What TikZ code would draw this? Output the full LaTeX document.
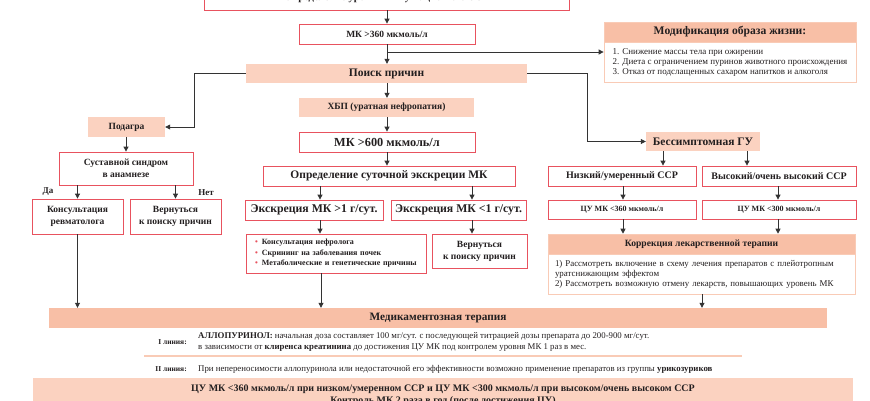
\documentclass[tikz,border=0pt]{standalone}
\usepackage{fontspec}
\setmainfont{Liberation Serif}
\usetikzlibrary{arrows.meta}
\definecolor{redb}{HTML}{E8525E}
\definecolor{salD}{HTML}{F8BFA6}
\definecolor{salL}{HTML}{FBD2C0}
\definecolor{salB}{HTML}{F9CBB6}
\definecolor{txt}{HTML}{231F20}
\definecolor{ln}{HTML}{333333}
\newcommand\fsz[2]{\fontsize{#1}{#2}\selectfont}
\begin{document}
\begin{tikzpicture}[x=1pt,y=-1pt,
  box/.style={draw=redb,line width=0.8pt,fill=white,inner sep=0pt,align=center,font=\bfseries\fsz{10}{12},text=txt},
  fbox/.style={fill=salL,inner sep=0pt,align=center,font=\bfseries\fsz{10}{12},text=txt},
  hbox/.style={fill=salD,draw=salB,line width=0.6pt,inner sep=0pt,align=center,font=\bfseries\fsz{10}{12},text=txt},
  bbox/.style={fill=white,draw=salB,line width=0.8pt,inner sep=0pt,align=left,font=\fsz{9}{10},text=txt},
  arr/.style={draw=ln,line width=0.8pt,-{Triangle[length=5pt,width=5pt]}},
  lin/.style={draw=ln,line width=0.8pt}]
\useasboundingbox (0,0) rectangle (870,400);

% top row
\node[box,minimum width=365,minimum height=24,font=\bfseries\fsz{10.5}{12}] (top) at (386.5,-2) {Определение уровня МК у пациента с ССР};
\node[box,minimum width=176,minimum height=20,font=\bfseries\fsz{9.5}{12}] (mk360) at (387,34) {МК >360 мкмоль/л};
\node[hbox,minimum width=252,minimum height=20,font=\bfseries\fsz{11.6}{14}] (modh) at (730,32) {Модификация образа жизни:};
\node[bbox,minimum width=252,minimum height=40] (modb) at (730,62) {1. Снижение массы тела при ожирении\\2. Диета с ограничением пуринов животного происхождения\\3. Отказ от подслащенных сахаром напитков и алкоголя};
\node[fbox,minimum width=281,minimum height=19,font=\bfseries\fsz{11.5}{13}] (poisk) at (386.5,73.5) {Поиск причин};
\node[fbox,minimum width=175,minimum height=19,font=\bfseries\fsz{9.5}{12}] (hbp) at (386.5,107.5) {ХБП (уратная нефропатия)};

% left branch
\node[fbox,minimum width=77,minimum height=20,font=\bfseries\fsz{9.5}{12}] (podagra) at (126.5,127) {Подагра};
\node[box,minimum width=134,minimum height=33,font=\bfseries\fsz{9.5}{12}] (sust) at (126,168.5) {Суставной синдром\\в анамнезе};
\node[box,minimum width=91,minimum height=35,font=\bfseries\fsz{9.5}{12}] (konsult) at (77.5,216.5) {Консультация\\ревматолога};
\node[box,minimum width=91,minimum height=35,font=\bfseries\fsz{9.5}{12}] (vern1) at (175.5,216.5) {Вернуться\\к поиску причин};
\node[font=\bfseries\fsz{9}{11},text=txt] (da) at (48,192) {Да};
\node[font=\bfseries\fsz{9}{11},text=txt] (net) at (206,193) {Нет};

% middle branch
\node[box,minimum width=176,minimum height=20,font=\bfseries\fsz{12.3}{14}] (mk600) at (387,142) {МК >600 мкмоль/л};
\node[box,minimum width=252,minimum height=20,font=\bfseries\fsz{11.5}{14}] (opred) at (389,176) {Определение суточной экскреции МК};
\node[box,minimum width=138,minimum height=20,font=\bfseries\fsz{11.8}{14}] (ex1) at (314,210) {Экскреция МК >1 г/сут.};
\node[box,minimum width=135,minimum height=20,font=\bfseries\fsz{11.8}{14}] (ex2) at (458.5,210) {Экскреция МК <1 г/сут.};
\node[box,minimum width=180,minimum height=39,text width=162,align=left,font=\bfseries\fsz{8}{10.5}] (bul) at (336,253.5) {\textcolor{redb}{•}\hspace{4pt}Консультация нефролога\\\textcolor{redb}{•}\hspace{4pt}Скрининг на заболевания почек\\\textcolor{redb}{•}\hspace{4pt}Метаболические и генетические причины};
\node[box,minimum width=95,minimum height=34,font=\bfseries\fsz{9.5}{12}] (vern2) at (479.5,251) {Вернуться\\к поиску причин};

% right branch
\node[fbox,minimum width=114,minimum height=19,font=\bfseries\fsz{11.5}{13}] (bess) at (703,141.5) {Бессимптомная ГУ};
\node[box,minimum width=148,minimum height=20,font=\bfseries\fsz{10}{12}] (nizk) at (622,176) {Низкий/умеренный ССР};
\node[box,minimum width=154,minimum height=20,font=\bfseries\fsz{10}{12}] (vys) at (779,176) {Высокий/очень высокий ССР};
\node[box,minimum width=148,minimum height=19,font=\bfseries\fsz{8}{10}] (cu360) at (622,209.5) {ЦУ МК <360 мкмоль/л};
\node[box,minimum width=154,minimum height=19,font=\bfseries\fsz{8}{10}] (cu300) at (779,209.5) {ЦУ МК <300 мкмоль/л};
\node[hbox,minimum width=307,minimum height=20,font=\bfseries\fsz{9.6}{12}] (korrh) at (701.5,244) {Коррекция лекарственной терапии};
\node[bbox,minimum width=307,minimum height=40,text width=293,font=\fsz{8.9}{10}] (korrb) at (701.5,274) {1) Рассмотреть включение в схему лечения препаратов с плейотропным\\уратснижающим эффектом\\2) Рассмотреть возможную отмену лекарств, повышающих уровень МК};

% bottom
\node[fill=salD,inner sep=0pt,minimum width=778,minimum height=20,font=\bfseries\fsz{11.3}{14},text=txt] (med) at (438,318) {Медикаментозная терапия};
\node[anchor=east,inner sep=0pt,font=\bfseries\fsz{7.5}{9},text=txt] (l1) at (187,342) {I линия:};
\node[anchor=west,inner sep=0pt,align=left,font=\fsz{8.8}{11},text=txt] (t1) at (198,341.5) {\textbf{АЛЛОПУРИНОЛ:} начальная доза составляет 100 мг/сут. с последующей титрацией дозы препарата до 200-900 мг/сут.\\в зависимости от \textbf{клиренса креатинина} до достижения ЦУ МК под контролем уровня МК 1 раз в мес.};
\draw[draw=salB,line width=1.2pt] (144,356) -- (742,356);
\node[anchor=east,inner sep=0pt,font=\bfseries\fsz{7.5}{9},text=txt] (l2) at (187,369) {II линия:};
\node[anchor=west,inner sep=0pt,align=left,font=\fsz{8.8}{11},text=txt] (t2) at (198,369) {При непереносимости аллопуринола или недостаточной его эффективности возможно применение препаратов из группы \textbf{урикозуриков}};
\node[fill=salL,anchor=north,minimum width=820,inner xsep=0pt,inner ysep=7pt,align=center,font=\bfseries\fsz{10}{12},text=txt] (goal) at (443,378) {ЦУ МК <360 мкмоль/л при низком/умеренном ССР и ЦУ МК <300 мкмоль/л при высоком/очень высоком ССР\\Контроль МК 2 раза в год (после достижения ЦУ)};

% connectors
\coordinate (br) at (387,52);
\draw[arr] (top.south -| mk360) -- (mk360.north);
\draw[arr] (mk360.south) -- (poisk.north -| mk360);
\draw[arr] (br) -- (modb.west |- br);
\draw[arr] (poisk.west) -- ++(-51,0) |- (podagra.east);
\draw[arr] (poisk.east) -- ++(60,0) |- (bess.west);
\draw[arr] (poisk.south -| mk360) -- (hbp.north -| mk360);
\draw[arr] (hbp.south -| mk360) -- (mk600.north -| mk360);
\draw[arr] (mk600.south -| mk360) -- (opred.north -| mk360);
\draw[arr] (opred.south -| 320,0) -- (ex1.north -| 320,0);
\draw[arr] (opred.south -| 472,0) -- (ex2.north -| 472,0);
\draw[arr] (ex1.south -| 320,0) -- (bul.north -| 320,0);
\draw[arr] (ex2.south -| 472,0) -- (vern2.north -| 472,0);
\draw[arr] (bul.south -| 321,0) -- (med.north -| 321,0);
\draw[arr] (podagra.south -| sust) -- (sust.north);
\draw[arr] (sust.south -| konsult) -- (konsult.north);
\draw[arr] (sust.south -| vern1) -- (vern1.north);
\draw[arr] (konsult.south) -- (med.north -| konsult);
\draw[arr] (bess.south -| 663,0) -- (nizk.north -| 663,0);
\draw[arr] (bess.south -| 747,0) -- (vys.north -| 747,0);
\draw[arr] (nizk.south -| 623,0) -- (cu360.north -| 623,0);
\draw[arr] (vys.south -| 778,0) -- (cu300.north -| 778,0);
\draw[arr] (cu360.south -| 623,0) -- (korrh.north -| 623,0);
\draw[arr] (cu300.south -| 778,0) -- (korrh.north -| 778,0);
\draw[arr] (korrb.south -| 702,0) -- (med.north -| 702,0);
\end{tikzpicture}
\end{document}
